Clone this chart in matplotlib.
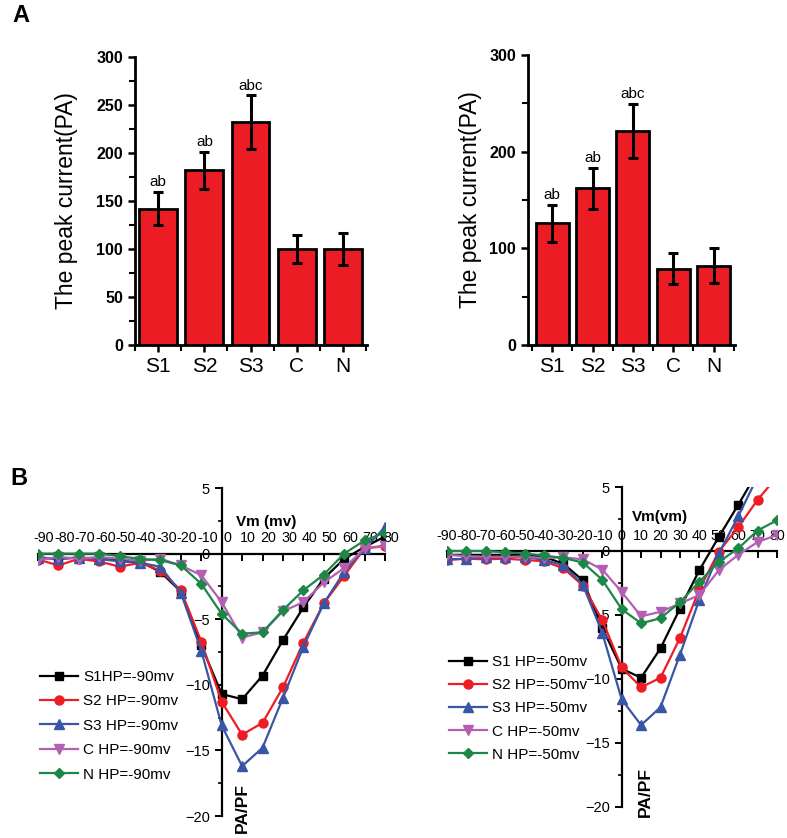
import matplotlib
matplotlib.use("Agg")
import matplotlib.pyplot as plt
import matplotlib.transforms as mtransforms
from matplotlib.ticker import MultipleLocator, FixedLocator

plt.rcParams['font.family'] = ['Liberation Sans', 'DejaVu Sans']

# ---------------- data ----------------
groups = ["S1", "S2", "S3", "C", "N"]

barA_vals = [142, 182, 232, 100, 100]
barA_errs = [17, 19, 28, 15, 17]
barA_marks = ["ab", "ab", "abc", "", ""]

barB_vals = [126, 162, 221, 79, 82]
barB_errs = [19, 21, 28, 16, 18]
barB_marks = ["ab", "ab", "abc", "", ""]

vm = [-90, -80, -70, -60, -50, -40, -30, -20, -10, 0, 10, 20, 30, 40, 50, 60, 70, 80]
vm_ticklabels = [str(v) for v in vm]

# HP = -90 mV
s1_90 = [-0.3, -0.4, -0.3, -0.4, -0.5, -0.6, -1.4, -2.9, -7.0, -10.7, -11.1, -9.3, -6.6, -4.1, -1.9, -0.4, 0.5, 1.3]
s2_90 = [-0.45, -0.9, -0.4, -0.6, -1.0, -0.7, -1.3, -2.8, -6.7, -11.3, -13.8, -12.9, -10.2, -6.8, -3.8, -1.7, 0.4, 0.6]
s3_90 = [-0.3, -0.4, -0.3, -0.4, -0.6, -0.7, -1.0, -3.0, -7.4, -13.1, -16.2, -14.8, -11.0, -7.1, -3.8, -1.4, 0.4, 2.0]
c_90 = [-0.5, -0.25, -0.4, -0.25, -0.4, -0.55, -0.4, -0.9, -1.65, -3.7, -6.4, -6.0, -4.4, -3.7, -2.2, -1.1, 0.4, 0.55]
n_90 = [0.0, 0.0, 0.0, 0.0, -0.2, -0.4, -0.5, -0.9, -2.3, -4.6, -6.1, -6.0, -4.3, -2.8, -1.6, 0.0, 1.0, 1.6]

# HP = -50 mV
s1_50 = [-0.3, -0.3, -0.3, -0.3, -0.3, -0.45, -1.0, -2.3, -6.0, -9.2, -9.9, -7.6, -4.5, -1.5, 1.1, 3.6, 6.2, 8.5]
s2_50 = [-0.7, -0.6, -0.65, -0.6, -0.7, -0.8, -1.35, -2.7, -5.4, -9.1, -10.65, -9.9, -6.8, -3.0, -0.05, 1.85, 4.0, 5.8]
s3_50 = [-0.65, -0.6, -0.5, -0.5, -0.45, -0.7, -1.1, -2.65, -6.4, -11.6, -13.6, -12.2, -8.1, -3.8, -0.2, 2.7, 5.8, 8.8]
c_50 = [-0.3, -0.4, -0.45, -0.45, -0.45, -0.55, -0.5, -0.65, -1.45, -3.2, -5.1, -4.75, -4.1, -3.45, -1.5, -0.3, 0.7, 1.25]
n_50 = [0.0, 0.0, 0.0, -0.1, -0.2, -0.35, -0.55, -0.9, -2.25, -4.55, -5.65, -5.25, -4.0, -2.4, -0.85, 0.2, 1.6, 2.4]

labels_90 = ["S1HP=-90mv", "S2 HP=-90mv", "S3 HP=-90mv", "C HP=-90mv", "N HP=-90mv"]
labels_50 = ["S1 HP=-50mv", "S2 HP=-50mv", "S3 HP=-50mv", "C HP=-50mv", "N HP=-50mv"]

colors = ["#000000", "#ee1c24", "#3b55a6", "#b35fb3", "#1c8747"]
markers = ["s", "o", "^", "v", "D"]
msizes = [5.5, 6.5, 6.5, 6.5, 5.5]

BAR_RED = "#ec1c24"

fig = plt.figure(figsize=(7.87, 8.38), dpi=100)
W, H = 787.0, 838.0


def axes_px(x0, y0, x1, y1):
    return fig.add_axes([x0 / W, 1 - y1 / H, (x1 - x0) / W, (y1 - y0) / H])


def bar_panel(ax, vals, errs, marks, major, minor, xlim, ylabel_x, mark_off):
    x = list(range(len(groups)))
    ax.bar(x, vals, width=0.82, color=BAR_RED, edgecolor="black", linewidth=2, zorder=2)
    ax.errorbar(x, vals, yerr=errs, fmt="none", ecolor="black", elinewidth=2.2,
                capsize=3.5, capthick=2.2, zorder=3)
    for xi, v, e, m in zip(x, vals, errs, marks):
        if m:
            ax.text(xi, v + e + mark_off, m, ha="center", va="bottom", fontsize=11)
    ax.set_xlim(*xlim)
    ax.set_ylim(0, 300)
    ax.spines["top"].set_visible(False)
    ax.spines["right"].set_visible(False)
    for s in ("left", "bottom"):
        ax.spines[s].set_linewidth(2)
    ax.set_xticks(x)
    ax.set_xticklabels(groups, fontsize=15)
    ax.xaxis.set_minor_locator(FixedLocator([i + 0.5 for i in range(-1, len(groups))]))
    ax.yaxis.set_major_locator(MultipleLocator(major))
    ax.yaxis.set_minor_locator(MultipleLocator(minor))
    ax.tick_params(axis="both", which="major", direction="out", length=5, width=1.8)
    ax.tick_params(axis="both", which="minor", direction="out", length=4, width=1.5)
    ax.tick_params(axis="y", labelsize=11.5)
    for lab in ax.get_yticklabels():
        lab.set_fontweight("bold")
    ax.set_ylabel("The peak current(PA)", fontsize=16.5)
    ax.yaxis.set_label_coords(ylabel_x, 0.5)


axA1 = axes_px(135, 57, 367, 345)
bar_panel(axA1, barA_vals, barA_errs, barA_marks, 50, 25, (-0.5, 4.52), -0.245, 3)

axA2 = axes_px(528, 55, 735, 345)
bar_panel(axA2, barB_vals, barB_errs, barB_marks, 100, 50, (-0.6, 4.53), -0.22, 3)


def iv_panel(ax, series, labels, xlabel, xlabel_pos, pa_pos, leg_anchor, label_shift, lspace):
    for ys, c, m, ms, lab in zip(series, colors, markers, msizes, labels):
        ax.plot(vm, ys, color=c, marker=m, markersize=ms, linewidth=1.6, label=lab,
                clip_on=True, zorder=3)
    ax.set_xlim(-90, 80)
    ax.set_ylim(-20, 5)
    ax.spines["right"].set_visible(False)
    ax.spines["bottom"].set_visible(False)
    ax.spines["top"].set_position(("data", 0))
    ax.spines["left"].set_position(("data", 0))
    ax.spines["top"].set_linewidth(1.6)
    ax.spines["left"].set_linewidth(1.6)
    ax.xaxis.set_ticks_position("top")
    ax.set_xticks(vm)
    ax.set_xticklabels(vm_ticklabels)
    ax.tick_params(axis="x", direction="in", length=5, width=1.4, labelsize=10.3, pad=6)
    if label_shift:
        offset = mtransforms.ScaledTranslation(label_shift / 72, 0, fig.dpi_scale_trans)
        for lab in ax.get_xticklabels():
            lab.set_transform(lab.get_transform() + offset)
    ax.yaxis.set_major_locator(MultipleLocator(5))
    ax.yaxis.set_minor_locator(MultipleLocator(2.5))
    ax.tick_params(axis="y", which="major", direction="out", length=5, width=1.4, labelsize=10.5)
    ax.tick_params(axis="y", which="minor", direction="out", length=3, width=1.2)
    ax.patch.set_visible(False)
    ax.text(xlabel_pos[0], xlabel_pos[1], xlabel, fontsize=11, fontweight="bold",
            ha="center", va="center")
    ax.text(pa_pos[0], pa_pos[1], "PA/PF", rotation=90, fontsize=12.5, fontweight="bold",
            ha="center", va="center", clip_on=False)
    leg = ax.legend(loc="upper left", bbox_to_anchor=leg_anchor, frameon=False,
                    fontsize=11, handlelength=2.5, handletextpad=0.3, labelspacing=lspace,
                    borderpad=0, borderaxespad=0)
    return leg


axB1 = axes_px(38, 488, 385, 816)
iv_panel(axB1, [s1_90, s2_90, s3_90, c_90, n_90], labels_90, "Vm (mv)", (22, 2.4),
         (10, -19.4), (0.006, 0.445), 4.3, 0.68)

axB2 = axes_px(447, 487, 777, 807)
iv_panel(axB2, [s1_50, s2_50, s3_50, c_50, n_50], labels_50, "Vm(vm)", (19.6, 2.65),
         (12, -18.8), (0.006, 0.475), 0, 0.6)

fig.text(12 / W, 1 - 15 / H, "A", fontsize=17, fontweight="bold", ha="left", va="center")
fig.text(10 / W, 1 - 478 / H, "B", fontsize=17, fontweight="bold", ha="left", va="center")

fig.savefig("out.png", dpi=100)
